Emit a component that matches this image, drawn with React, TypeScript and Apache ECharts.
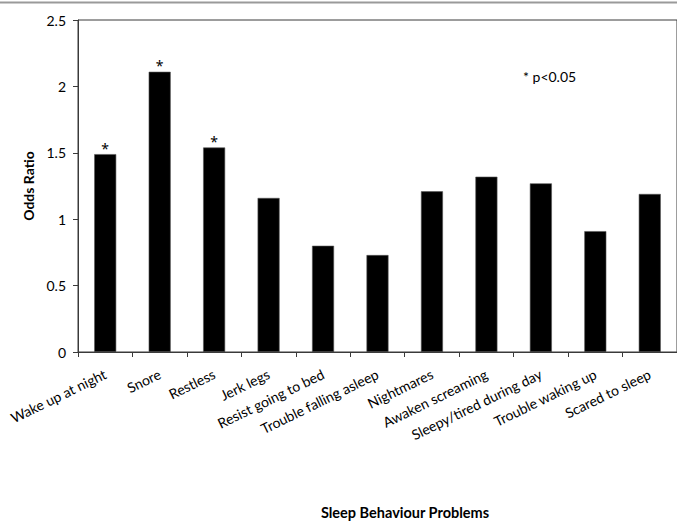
import React, { useEffect, useRef } from "react";
import * as echarts from "echarts";

const categories = [
  "Wake up at night",
  "Snore",
  "Restless",
  "Jerk legs",
  "Resist going to bed",
  "Trouble falling asleep",
  "Nightmares",
  "Awaken screaming",
  "Sleepy/tired during day",
  "Trouble waking up",
  "Scared to sleep",
];
const oddsRatios = [1.49, 2.11, 1.54, 1.16, 0.8, 0.73, 1.21, 1.32, 1.27, 0.91, 1.19];
const significant = [true, true, true, false, false, false, false, false, false, false, false];
const yMin = 0;
const yMax = 2.5;
const yInterval = 0.5;

const FONT = "Lato, 'Noto Sans', sans-serif";
const STAR_FONT = "'Noto Sans', sans-serif";

export default function App() {
  const ref = useRef<HTMLDivElement>(null);
  useEffect(() => {
    document.body.style.margin = "0";
    if (!ref.current) return;
    const chart = echarts.init(ref.current, undefined, { renderer: "svg" });
    chart.setOption({
      animation: false,
      backgroundColor: "#ffffff",
      textStyle: { fontFamily: FONT },
      grid: {
        left: 78,
        top: 20,
        width: 605,
        height: 332,
        show: true,
        borderColor: "#3a3a3a",
        borderWidth: 1,
        backgroundColor: "transparent",
      },
      xAxis: {
        type: "category",
        data: categories,
        boundaryGap: true,
        axisLine: { show: true, lineStyle: { color: "#3a3a3a", width: 1 } },
        axisTick: { show: true, alignWithLabel: false, length: 5, inside: false, lineStyle: { color: "#3a3a3a" } },
        axisLabel: {
          interval: 0,
          rotate: 26,
          margin: 21,
          fontSize: 14,
          color: "#000",
          fontFamily: FONT,
        },
        splitLine: { show: false },
      },
      yAxis: {
        type: "value",
        min: yMin,
        max: yMax,
        interval: yInterval,
        axisLine: { show: true, lineStyle: { color: "#3a3a3a", width: 1 } },
        axisTick: { show: true, length: 5, inside: false, lineStyle: { color: "#3a3a3a" } },
        axisLabel: { margin: 12, fontSize: 14, color: "#000", fontFamily: FONT },
        splitLine: { show: false },
      },
      series: [
        {
          type: "bar",
          barWidth: 22,
          data: oddsRatios.map((v, i) => ({
            value: v,
            label: {
              show: significant[i],
              position: "top",
              distance: -1,
              formatter: "*",
              fontSize: 14,
              color: "#000",
              fontFamily: STAR_FONT,
            },
          })),
          itemStyle: { color: "#000000", borderColor: "#555555", borderWidth: 0.6 },
        },
      ],
      graphic: [
        {
          type: "rect",
          shape: { x: 0, y: 1.5, width: 677, height: 2 },
          style: { fill: "#9a9a9a" },
          silent: true,
        },
        {
          type: "text",
          x: 523,
          y: 76,
          style: {
            text: "* p<0.05",
            fontSize: 14,
            fill: "#000",
            fontFamily: FONT,
            align: "left",
            verticalAlign: "middle",
          },
        },
        {
          type: "text",
          x: 28,
          y: 186,
          rotation: Math.PI / 2,
          style: {
            text: "Odds Ratio",
            fontSize: 14,
            fontWeight: "bold",
            fill: "#000",
            fontFamily: FONT,
            align: "center",
            verticalAlign: "middle",
          },
        },
        {
          type: "text",
          x: 405,
          y: 512,
          style: {
            text: "Sleep Behaviour Problems",
            fontSize: 14.5,
            fontWeight: "bold",
            fill: "#000",
            fontFamily: FONT,
            align: "center",
            verticalAlign: "middle",
          },
        },
      ],
    });
    return () => chart.dispose();
  }, []);
  return <div ref={ref} style={{ width: 677, height: 523 }} />;
}
